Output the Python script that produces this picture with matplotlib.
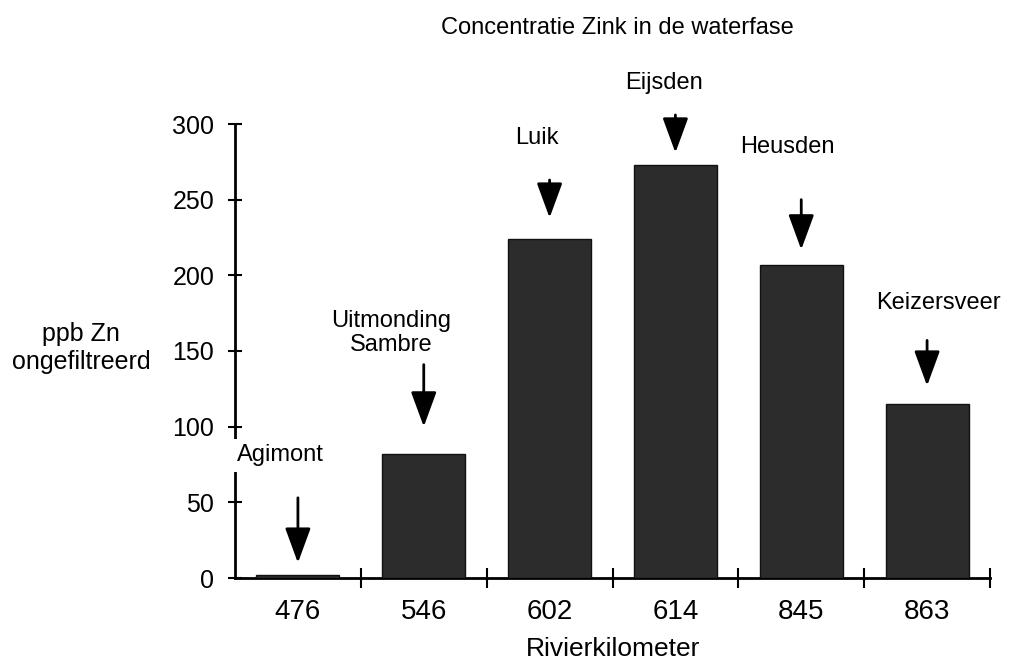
import matplotlib.pyplot as plt

plt.rcParams['font.family'] = ['Liberation Sans', 'DejaVu Sans']

# data
km_labels = ["476", "546", "602", "614", "845", "863"]
stations = ["Agimont", "Uitmonding\nSambre", "Luik", "Eijsden", "Heusden", "Keizersveer"]
zinc_ppb = [2, 82, 224, 273, 207, 115]

# annotation layout (data units): arrow tip / tail heights, label offsets
arrow_tip = [10, 100, 238, 281, 217, 127]
arrow_tail = [53, 141, 263, 306, 250, 157]
label_dx = [-0.14, -0.26, -0.10, -0.09, -0.11, 0.09]
label_y = [81, 162, 291, 327, 285, 182]

fig = plt.figure(figsize=(10.1, 6.62), dpi=100)
ax = fig.add_axes([235 / 1010, 84 / 662, 755 / 1010, 454 / 662])

x = list(range(len(km_labels)))
ax.bar(x, zinc_ppb, width=0.66, color="#2c2c2c", edgecolor="#111111", linewidth=1, zorder=2)

ax.set_xlim(-0.5, 5.5)
ax.set_ylim(0, 300)

for s in ["top", "right"]:
    ax.spines[s].set_visible(False)
for s in ["left", "bottom"]:
    ax.spines[s].set_linewidth(2)
    ax.spines[s].set_zorder(1)

ax.set_yticks([0, 50, 100, 150, 200, 250, 300])
ax.tick_params(axis="y", direction="inout", length=10, width=1.5, pad=10, labelsize=18)

ax.set_xticks(x)
ax.set_xticklabels(km_labels)
ax.tick_params(axis="x", which="major", length=0, pad=15, labelsize=20)
ax.set_xticks([i + 0.5 for i in x], minor=True)
ax.tick_params(axis="x", which="minor", direction="inout", length=14, width=1.5)

for i in x:
    ax.annotate("", xy=(i, arrow_tip[i]), xytext=(i, arrow_tail[i]),
                arrowprops=dict(arrowstyle="-|>,head_length=0.6,head_width=0.22",
                                mutation_scale=36, lw=2, color="black",
                                shrinkA=0, shrinkB=0),
                annotation_clip=False, zorder=4)
    bbox = None
    if i == 0:
        bbox = dict(facecolor="white", edgecolor="none", pad=4)
    ax.text(i + label_dx[i], label_y[i], stations[i], ha="center", va="center",
            fontsize=17, linespacing=1.1, bbox=bbox, zorder=5)

fig.text(617 / 1010, 1 - 28 / 662, "Concentratie Zink in de waterfase",
         ha="center", va="center", fontsize=17)
fig.text(81 / 1010, 1 - 348 / 662, "ppb Zn\nongefiltreerd", ha="center",
         va="center", fontsize=18, linespacing=1.25)
fig.text(613 / 1010, 1 - 649 / 662, "Rivierkilometer", ha="center",
         va="center", fontsize=19)

fig.savefig("out.png", dpi=100)
